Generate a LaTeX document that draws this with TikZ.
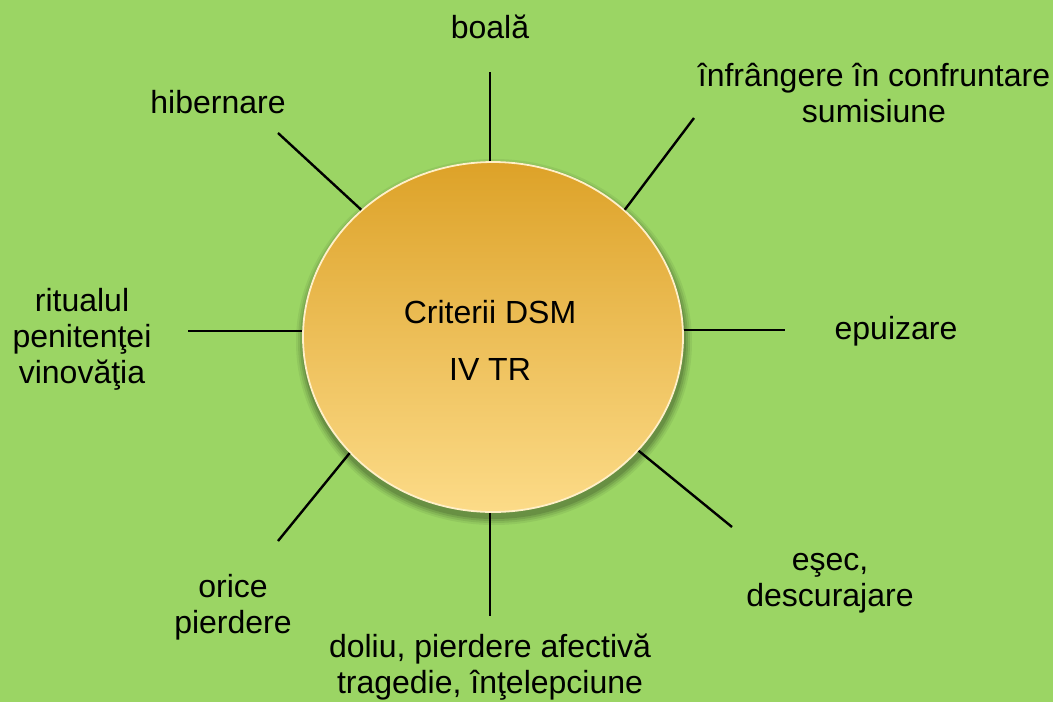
\documentclass[tikz,border=0pt]{standalone}
\usepackage{fontspec}
\setmainfont{Liberation Sans}
\usetikzlibrary{shapes.geometric}

\definecolor{meadow}{RGB}{155,213,100}
\definecolor{discTop}{RGB}{221,162,40}
\definecolor{discMid}{RGB}{240,192,84}
\definecolor{discBot}{RGB}{252,219,136}
\definecolor{discRim}{RGB}{255,240,200}

\begin{document}
\begin{tikzpicture}[x=1pt,y=-1pt,
  lbl/.style={font=\fontsize{32}{36}\selectfont, align=center, anchor=base, inner sep=0pt, text=black},
  spoke/.style={line width=2.4pt, black},
  disc/.style={ellipse, minimum width=380pt, minimum height=350pt, inner sep=0pt,
    top color=discTop, middle color=discMid, bottom color=discBot,
    draw=discRim, line width=1.8pt}]

% background and page frame
\fill[meadow] (0,0) rectangle (1053,702);
\useasboundingbox (0,0) rectangle (1053,702);

% soft drop shadow under the disc
\foreach \r/\o in {8/0.06,6/0.08,4/0.10,2/0.12}
  \fill[black, opacity=\o] (494,342) ellipse [x radius=190+\r, y radius=175+\r];

% central disc
\node[disc] (c) at (493,337) {};
\node[lbl] (crit) at (490,323) {Criterii DSM};
\node[lbl] (ivtr) at (490,380) {IV TR};

% surrounding labels (anchored at the baseline of their last line)
\node[lbl] (boala) at (490,38)  {boală};
\node[lbl] (hib)   at (218,113) {hibernare};
\node[lbl] (infr)  at (874,122) {înfrângere în confruntare\\sumisiune};
\node[lbl] (rit)   at (82,383)  {ritualul\\penitenţei\\vinovăţia};
\node[lbl] (epu)   at (896,339) {epuizare};
\node[lbl] (esec)  at (830,606) {eşec,\\descurajare};
\node[lbl] (orice) at (233,633) {orice\\pierdere};
\node[lbl] (doliu) at (490,693) {doliu, pierdere afectivă\\tragedie, înţelepciune};

% free ends of the spokes
\coordinate (eN)  at (490,72);
\coordinate (eNE) at (694,118);
\coordinate (eE)  at (785,330);
\coordinate (eSE) at (732,527);
\coordinate (eS)  at (490,616);
\coordinate (eSW) at (278,541);
\coordinate (eW)  at (188,331);
\coordinate (eNW) at (278,133);

% spokes from the disc rim outwards
\draw[spoke] (c.north -| eN) -- (eN);
\draw[spoke] (c.44)          -- (eNE);
\draw[spoke] (c.east |- eE)  -- (eE);
\draw[spoke] (c.-38)         -- (eSE);
\draw[spoke] (c.south -| eS) -- (eS);
\draw[spoke] (c.-141)        -- (eSW);
\draw[spoke] (c.west |- eW)  -- (eW);
\draw[spoke] (c.136)         -- (eNW);
\end{tikzpicture}
\end{document}
